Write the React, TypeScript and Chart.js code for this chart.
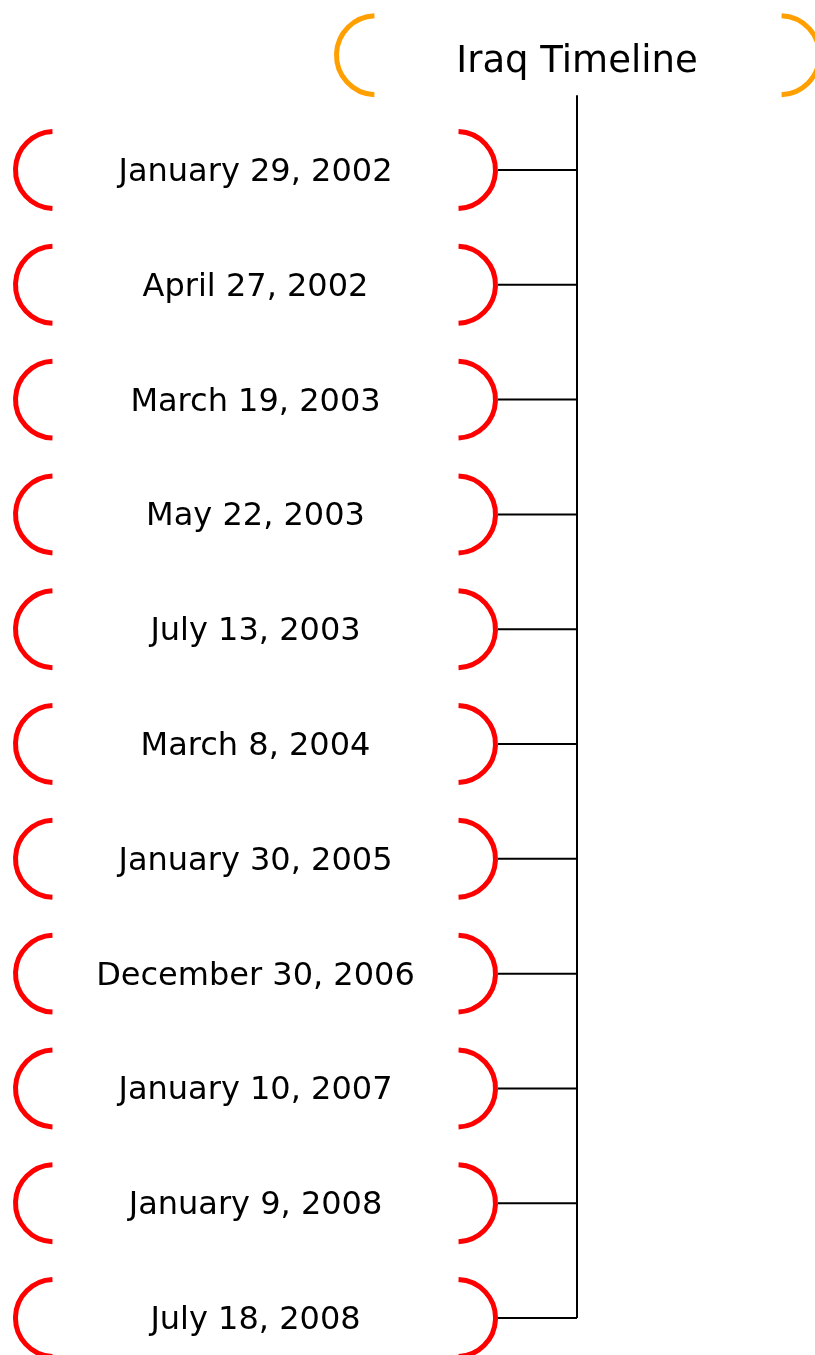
import React, { useEffect, useRef } from "react";
import { Chart, registerables } from "chart.js";

Chart.register(...registerables);

// ---- data ----
const TITLE = "Iraq Timeline";
const EVENT_DATES = [
  "January 29, 2002",
  "April 27, 2002",
  "March 19, 2003",
  "May 22, 2003",
  "July 13, 2003",
  "March 8, 2004",
  "January 30, 2005",
  "December 30, 2006",
  "January 10, 2007",
  "January 9, 2008",
  "July 18, 2008",
];
// row index of each event (title sits on row -1)
const EVENT_ROWS = [0, 1, 2, 3, 4, 5, 6, 7, 8, 9, 10];
const TITLE_ROW = -1;

// layout columns (in the hidden x scale's units)
const NODE_COL = 255.5;
const TITLE_COL = 578;
const TRUNK_COL = 577;
const CONNECTOR_START = 498;

const W = 815;
const H = 1355;

const bracketPlugin = {
  id: "brackets",
  afterDatasetsDraw(chart: any) {
    const ctx = chart.ctx;
    const drawBrackets = (x: number, y: number, half: number, r: number, color: string) => {
      const d = 0.04;
      ctx.save();
      ctx.strokeStyle = color;
      ctx.lineWidth = 5;
      ctx.lineCap = "butt";
      ctx.beginPath();
      ctx.arc(x - half, y, r, Math.PI / 2 + d, (3 * Math.PI) / 2 - d);
      ctx.stroke();
      ctx.beginPath();
      ctx.arc(x + half, y, r, -Math.PI / 2 + d, Math.PI / 2 - d);
      ctx.stroke();
      ctx.restore();
    };
    // event nodes
    const nodeMeta = chart.getDatasetMeta(0);
    nodeMeta.data.forEach((pt: any, i: number) => {
      drawBrackets(pt.x, pt.y, 201.5, 38.5, "#ff0000");
      ctx.save();
      ctx.fillStyle = "#000000";
      ctx.font = '32px "DejaVu Sans"';
      ctx.textAlign = "center";
      ctx.textBaseline = "alphabetic";
      ctx.fillText(EVENT_DATES[i], pt.x, pt.y + 11);
      ctx.restore();
    });
    // title node
    const titleMeta = chart.getDatasetMeta(1);
    titleMeta.data.forEach((pt: any) => {
      drawBrackets(pt.x, pt.y, 202, 39.5, "#ffa000");
      ctx.save();
      ctx.fillStyle = "#000000";
      ctx.font = '37px "DejaVu Sans"';
      ctx.textAlign = "center";
      ctx.textBaseline = "alphabetic";
      ctx.fillText(TITLE, pt.x - 1, pt.y + 17);
      ctx.restore();
    });
  },
};

export default function App() {
  const ref = useRef<HTMLCanvasElement | null>(null);

  useEffect(() => {
    if (!ref.current) return;
    const lineStyle = {
      type: "scatter" as const,
      showLine: true,
      borderColor: "#000000",
      borderWidth: 2,
      pointRadius: 0,
      fill: false,
    };
    const trunk = {
      ...lineStyle,
      data: [
        { x: TRUNK_COL, y: TITLE_ROW + 0.348 },
        { x: TRUNK_COL, y: EVENT_ROWS[EVENT_ROWS.length - 1] },
      ],
    };
    const connectors = EVENT_ROWS.map((r) => ({
      ...lineStyle,
      data: [
        { x: CONNECTOR_START, y: r },
        { x: TRUNK_COL, y: r },
      ],
    }));
    const chart = new Chart(ref.current, {
      type: "scatter",
      data: {
        datasets: [
          { data: EVENT_ROWS.map((r) => ({ x: NODE_COL, y: r })), pointRadius: 0 },
          { data: [{ x: TITLE_COL, y: TITLE_ROW }], pointRadius: 0 },
          trunk,
          ...connectors,
        ] as any,
      },
      options: {
        animation: false,
        responsive: false,
        devicePixelRatio: 1,
        layout: { padding: 0 },
        plugins: { legend: { display: false }, tooltip: { enabled: false } },
        scales: {
          x: { type: "linear", min: 0, max: W, display: false },
          y: { type: "linear", min: -1.481, max: 10.322, reverse: true, display: false },
        },
      },
      plugins: [bracketPlugin],
    });
    return () => chart.destroy();
  }, []);

  return (
    <div style={{ position: "absolute", left: 0, top: 0, width: W, height: H, background: "#ffffff" }}>
      <canvas ref={ref} width={W} height={H} style={{ display: "block" }} />
    </div>
  );
}
